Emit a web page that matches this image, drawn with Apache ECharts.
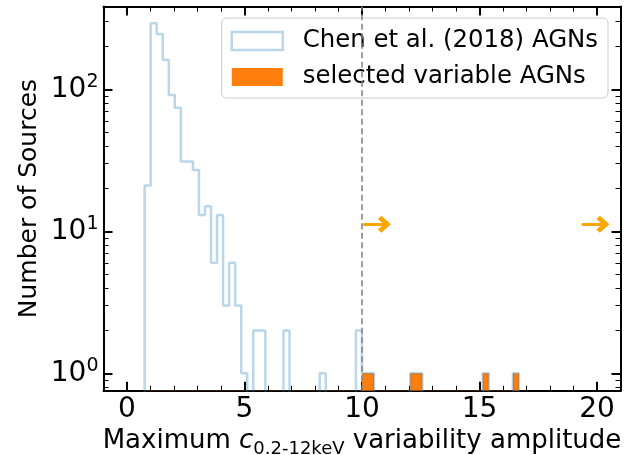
<!DOCTYPE html>
<html>
<head>
<meta charset="utf-8">
<script src="https://cdn.jsdelivr.net/npm/echarts@6/dist/echarts.min.js"></script>
<style>
  html, body { margin: 0; padding: 0; background: #fff; }
  #chart { width: 631px; height: 455px; }
</style>
</head>
<body>
<div id="chart"></div>
<script>
// histogram bins (uniform width)
const BIN_START = 0.75
const BIN_WIDTH = 0.2569

// Chen et al. (2018) AGNs, counts per bin
const allCounts = [
  21, 292, 245, 161, 91, 74, 31, 31, 27, 13,
  15, 6, 13, 3, 6, 3, 1, 0, 2, 2,
  0, 0, 0, 2, 0, 0, 0, 0, 0, 1,
  0, 0, 0, 0, 0, 2, 1, 1, 0, 0,
  0, 0, 0, 0, 1, 1, 0, 0, 0, 0,
  0, 0, 0, 0, 0, 0, 1, 0, 0, 0,
  0, 1
]

// selected variable AGNs, counts per bin
const selectedCounts = [
  0, 0, 0, 0, 0, 0, 0, 0, 0, 0,
  0, 0, 0, 0, 0, 0, 0, 0, 0, 0,
  0, 0, 0, 0, 0, 0, 0, 0, 0, 0,
  0, 0, 0, 0, 0, 0, 1, 1, 0, 0,
  0, 0, 0, 0, 1, 1, 0, 0, 0, 0,
  0, 0, 0, 0, 0, 0, 1, 0, 0, 0,
  0, 1
]

// threshold line and the two "beyond" arrows
const thresholdX = 10
const arrowStartX = [10.1, 19.4]
const arrowTipX = [11.2, 20.5]
const arrowY = [11.2, 11.2]

const xTickLabels = [0, 5, 10, 15, 20]
const yTickExps = [0, 1, 2]

const X_MIN = -1
const X_MAX = 21
const Y_MIN = -0.1225 // log10 units
const Y_MAX = 2.583
const LOW = -1 // empty bins drop below the axis

const FONT = 'DejaVu Sans'
const BLUE = 'rgba(31,119,180,0.3)'
const ORANGE = '#ff7f0e'

function stepPoints(counts) {
  const pts = [[BIN_START, LOW]]
  counts.forEach((c, i) => {
    pts.push([BIN_START + i * BIN_WIDTH, c > 0 ? Math.log10(c) : LOW])
  })
  pts.push([BIN_START + counts.length * BIN_WIDTH, LOW])
  return pts
}

const xMinor = []
for (let v = X_MIN; v <= X_MAX; v++) xMinor.push(v)
const yMinor = []
for (let e = -1; e <= 2; e++) {
  for (let k = 2; k <= 9; k++) {
    const v = e + Math.log10(k)
    if (v > Y_MIN && v < Y_MAX) yMinor.push(v)
  }
}

function xAxisCfg(position, ticks, len, width, withLine) {
  return {
    type: 'value',
    position,
    min: X_MIN,
    max: X_MAX,
    axisLine: { show: withLine, onZero: false, lineStyle: { color: '#000', width: 2 } },
    axisTick: { show: true, inside: true, length: len, customValues: ticks, lineStyle: { color: '#000', width } },
    axisLabel: { show: false },
    splitLine: { show: false }
  }
}

function yAxisCfg(position, ticks, len, width, withLine) {
  return {
    type: 'value',
    position,
    min: Y_MIN,
    max: Y_MAX,
    axisLine: { show: withLine, onZero: false, lineStyle: { color: '#000', width: 2 } },
    axisTick: { show: true, inside: true, length: len, customValues: ticks, lineStyle: { color: '#000', width } },
    axisLabel: { show: false },
    splitLine: { show: false }
  }
}

const xMain = xAxisCfg('bottom', xTickLabels, 9, 2, true)
xMain.axisLabel = {
  show: true,
  customValues: xTickLabels,
  fontSize: 28,
  fontFamily: FONT,
  color: '#000',
  margin: 5
}
xMain.name = 'Maximum {i|c}{sub|0.2-12keV} variability amplitude'
xMain.nameLocation = 'middle'
xMain.nameGap = 34
xMain.nameMoveOverlap = false
xMain.nameTextStyle = {
  fontSize: 26,
  fontFamily: FONT,
  color: '#000',
  lineHeight: 34,
  rich: {
    i: { fontSize: 26, fontFamily: FONT, fontStyle: 'italic', color: '#000', lineHeight: 34 },
    sub: { fontSize: 18, fontFamily: FONT, color: '#000', lineHeight: 14, verticalAlign: 'bottom' }
  }
}

const yMain = yAxisCfg('left', yTickExps, 9, 2, true)
yMain.axisLabel = {
  show: true,
  customValues: yTickExps,
  fontSize: 28,
  fontFamily: FONT,
  color: '#000',
  margin: 5,
  lineHeight: 34,
  formatter: v => '10{s|' + Math.round(v) + '}',
  rich: {
    s: { fontSize: 19, fontFamily: FONT, color: '#000', lineHeight: 24, verticalAlign: 'top' }
  }
}
yMain.name = 'Number of Sources'
yMain.nameLocation = 'middle'
yMain.nameGap = 62
yMain.nameMoveOverlap = false
yMain.nameTextStyle = { fontSize: 25, fontFamily: FONT, color: '#000' }

const chevron = 'path://M8,0 L16,8 L13,11 L8,6 L3,11 L0,8 Z'
const HEAD_OFFSET = 0.25 // half head length, data units

const chart = echarts.init(document.getElementById('chart'))
chart.setOption({
  animation: false,
  backgroundColor: '#fff',
  grid: { left: 103.5, right: 10.5, top: 6.5, bottom: 64.3, containLabel: false, outerBoundsMode: 'none' },
  legend: {
    orient: 'vertical',
    right: 23,
    top: 18,
    padding: [11, 10, 9, 9],
    itemWidth: 51,
    itemHeight: 18,
    itemGap: 12,
    selectedMode: false,
    backgroundColor: 'rgba(255,255,255,0.8)',
    borderColor: '#cccccc',
    borderWidth: 1,
    borderRadius: 5,
    textStyle: { fontSize: 24.4, fontFamily: FONT, color: '#000', lineHeight: 24, padding: [0, 0, 0, 15] },
    data: [
      { name: 'Chen et al. (2018) AGNs', icon: 'rect', itemStyle: { color: 'rgba(255,255,255,0)', borderColor: BLUE, borderWidth: 2.5 } },
      { name: 'selected variable AGNs', icon: 'rect', itemStyle: { color: ORANGE, borderWidth: 0 } }
    ]
  },
  xAxis: [
    xMain,
    xAxisCfg('bottom', xMinor, 5, 1, false),
    xAxisCfg('top', xTickLabels, 9, 2, true),
    xAxisCfg('top', xMinor, 5, 1, false)
  ],
  yAxis: [
    yMain,
    yAxisCfg('left', yMinor, 5, 1, false),
    yAxisCfg('right', yTickExps, 9, 2, true),
    yAxisCfg('right', yMinor, 5, 1, false)
  ],
  series: [
    {
      name: 'selected variable AGNs',
      type: 'line',
      step: 'end',
      clip: true,
      showSymbol: false,
      symbol: 'none',
      color: ORANGE,
      lineStyle: { width: 0, color: ORANGE },
      areaStyle: { color: ORANGE, opacity: 1, origin: 'start' },
      data: stepPoints(selectedCounts),
      z: 2,
      markLine: {
        silent: true,
        symbol: ['none', chevron],
        symbolSize: [17, 13],
        label: { show: false },
        lineStyle: { color: '#ffa500', width: 3, type: 'solid', cap: 'round' },
        data: arrowStartX.map((x0, i) => [
          { coord: [x0, Math.log10(arrowY[i])] },
          { coord: [arrowTipX[i] - HEAD_OFFSET, Math.log10(arrowY[i])] }
        ])
      }
    },
    {
      name: 'Chen et al. (2018) AGNs',
      type: 'line',
      step: 'end',
      clip: true,
      showSymbol: false,
      symbol: 'none',
      color: BLUE,
      lineStyle: { width: 2.5, color: BLUE },
      data: stepPoints(allCounts),
      z: 3,
      markLine: {
        silent: true,
        symbol: ['none', 'none'],
        label: { show: false },
        lineStyle: { color: '#808080', width: 1.5, type: [6, 3.5] },
        data: [{ xAxis: thresholdX }]
      }
    }
  ]
})
</script>
</body>
</html>
